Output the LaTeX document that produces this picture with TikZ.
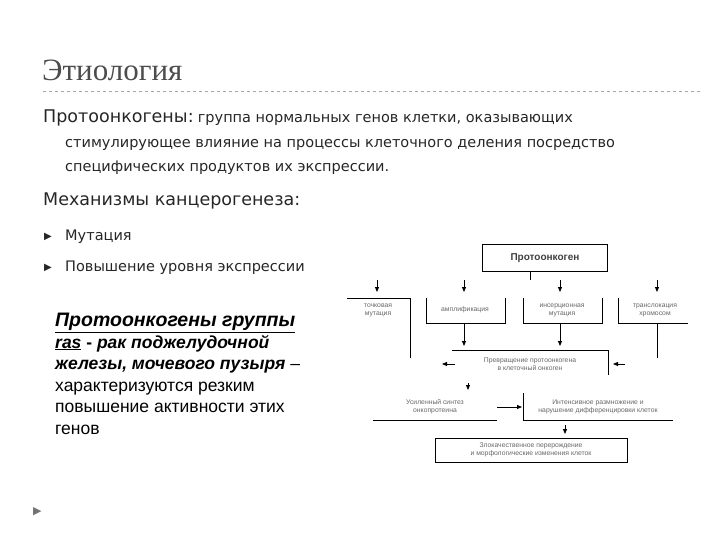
\documentclass[tikz,border=0pt]{standalone}
\usepackage{fontspec}
\setmainfont{DejaVu Sans}
\newfontfamily\ttl{Liberation Serif}
\newfontfamily\ars{Liberation Sans}
\usetikzlibrary{arrows.meta}
\begin{document}
\begin{tikzpicture}[x=1pt,y=-1pt,
 ln/.style={line width=0.8pt},
 ar/.style={line width=0.8pt,-{Triangle[length=5pt,width=4pt]}},
 sm/.style={font=\ars\fontsize{6.8}{8}\selectfont,text=black!60,align=center,inner sep=0},
 body/.style={anchor=west,inner sep=0,text=black!85}]
\useasboundingbox (0,0) rectangle (720,540);
\node[anchor=west,inner sep=0,text=black!70,font=\ttl\fontsize{31}{33}\selectfont] (t) at (42,70) {Этиология};
\draw[dashed,black!35] (43,91) -- (700,91);
\node[body] (p1) at (43,118) {{\fontsize{17.5}{20}\selectfont Протоонкогены:} {\fontsize{14.5}{17}\selectfont группа нормальных генов клетки, оказывающих}};
\node[body,font=\fontsize{14.5}{17}\selectfont] (p2) at (65,145) {стимулирующее влияние на процессы клеточного деления посредство};
\node[body,font=\fontsize{14.5}{17}\selectfont] (p3) at (65,168) {специфических продуктов их экспрессии.};
\node[body,font=\fontsize{17.5}{20}\selectfont] (m) at (43,201) {Механизмы канцерогенеза:};
\node[body,font=\fontsize{10}{12}\selectfont] (b1) at (44,237) {▶};
\node[body,font=\fontsize{10}{12}\selectfont] (b2) at (44,268) {▶};
\node[body,font=\fontsize{14.5}{17}\selectfont] (m1) at (65,237) {Мутация};
\node[body,font=\fontsize{14.5}{17}\selectfont] (m2) at (65,268) {Повышение уровня экспрессии};
\node[body,font=\fontsize{11}{13}\selectfont,text=black!55] (ch) at (33,512) {▶};
% left text
\node[anchor=north west,inner sep=0,align=left,font=\ars\fontsize{17.5}{21.5}\selectfont,text=black] (lt) at (55,313)
 {{\fontsize{19.5}{21.5}\selectfont\textbf{\textit{\underline{Протоонкогены группы}}}}\\
  \textbf{\textit{\underline{ras}} - \textit{рак поджелудочной}}\\
  \textbf{\textit{железы, мочевого пузыря}} –\\
  характеризуются резким\\
  повышение активности этих\\
  генов};
% diagram
\node[draw,line width=0.8pt,minimum width=125pt,minimum height=27pt,font=\ars\bfseries\fontsize{10}{12}\selectfont,text=black!75] (pk) at (545,258) {Протоонкоген};
\coordinate (c0) at (530,271.5);
\draw[ln] (c0) -- ++(0,8);
\foreach \x in {377,464,560,657}{\draw[ar] (\x,280) -- (\x,292);}
\node[sm] (n1) at (378,310) {точковая\\мутация};
\node[sm] (n2) at (465,310) {амплификация};
\node[sm] (n3) at (562,310) {инсерционная\\мутация};
\node[sm] (n4) at (655,310) {транслокация\\хромосом};
\draw[ln] (347,298) -- (410,298) -- (410,358);
\draw[ln] (426,298) -- (426,323) -- (505,323) -- (505,298);
\draw[ln] (523,298) -- (523,323) -- (602,323) -- (602,298);
\draw[ln] (618,298) -- (618,323) -- (688,323);
\draw[ln] (657,323) -- (657,358);
\draw[ar] (464,323) -- (464,346);
\draw[ar] (560,323) -- (560,346);
\node[sm] (n5) at (530,364) {Превращение протоонкогена\\в клеточный онкоген};
\draw[ln] (452,350) -- (608,350) -- (608,375);
\draw[ar] (455,364) -- (442,364);
\draw[ar] (625,364) -- (613,364);
\draw[ar] (468,383) -- (468,390);
\node[sm] (n6) at (435,407) {Усиленный синтез\\онкопротеина};
\draw[ln] (373,420) -- (497,420);
\draw[ar] (497,407) -- (522,407);
\node[sm] (n7) at (598,407) {Интенсивное размножение и\\нарушение дифференцировки клеток};
\draw[ln] (523,393) -- (523,420) -- (673,420);
\draw[ar] (565,425) -- (565,434);
\node[draw,line width=0.8pt,minimum width=192pt,minimum height=24pt,sm,inner sep=0] (n8) at (531,450) {Злокачественное перерождение\\и морфологические изменения клеток};
\end{tikzpicture}
\end{document}
